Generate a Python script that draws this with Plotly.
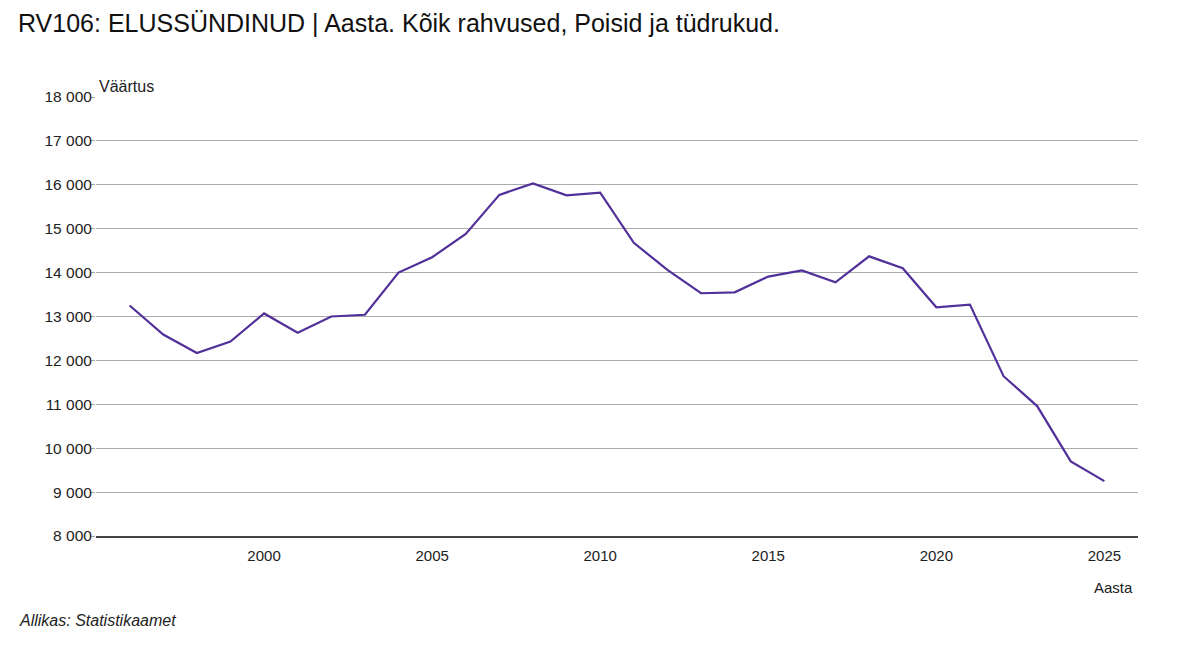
import plotly.graph_objs as go

# Elussündinud aastate kaupa (loetud pildilt)
years = list(range(1996, 2026))
births = [13250, 12590, 12170, 12430, 13070, 12630, 13000, 13040, 14000, 14350,
          14880, 15770, 16030, 15760, 15820, 14680, 14060, 13530, 13550, 13910,
          14050, 13780, 14370, 14100, 13210, 13270, 11640, 10960, 9700, 9250]

y_ticks = list(range(8000, 18001, 1000))
x_ticks = [2000, 2005, 2010, 2015, 2020, 2025]

line = go.Scatter(x=years, y=births, mode="lines", name="Elussündinud",
                  line={"color": "#51309a", "width": 2.2})

# page body adds 8px, margins are compensated for that
layout = go.Layout(
    width=1193, height=653,
    font={"family": "Liberation Sans, Arial, sans-serif", "size": 15, "color": "#222"},
    title={"text": "RV106: ELUSSÜNDINUD | Aasta. Kõik rahvused, Poisid ja tüdrukud.",
           "x": 0.0084, "xanchor": "left", "y": 0.976, "yanchor": "middle",
           "font": {"size": 25, "color": "#111"}},
    separators=", ",
    plot_bgcolor="white", paper_bgcolor="white",
    margin={"l": 88, "r": 63, "t": 89, "b": 125},
    showlegend=False,
    xaxis={"range": [1995, 2026], "tickvals": x_ticks, "showgrid": False,
           "showline": True, "linecolor": "#444", "linewidth": 1.5,
           "ticks": "", "ticklabelstandoff": 5, "zeroline": False,
           "fixedrange": True},
    yaxis={"range": [8000, 18000], "tickvals": y_ticks, "tickformat": ",d",
           "showgrid": True, "gridcolor": "#ababab", "gridwidth": 1,
           "ticks": "outside", "ticklen": 4, "tickcolor": "#ababab",
           "ticklabelstandoff": -4, "tickfont": {"size": 15.5},
           "zeroline": False, "fixedrange": True},
    annotations=[
        {"text": "Väärtus", "xref": "paper", "yref": "paper", "x": 0.001, "y": 1.0,
         "xanchor": "left", "yanchor": "bottom", "showarrow": False, "yshift": 0,
         "font": {"size": 16}},
        {"text": "Aasta", "xref": "paper", "yref": "paper", "x": 0.997, "y": 0,
         "xanchor": "right", "yanchor": "top", "showarrow": False, "yshift": -41,
         "font": {"size": 15}},
        {"text": "<i>Allikas: Statistikaamet</i>", "xref": "paper", "yref": "paper",
         "x": -0.0758, "y": 0, "xanchor": "left", "yanchor": "top",
         "showarrow": False, "yshift": -74, "font": {"size": 16}},
    ],
)

fig = go.Figure(data=[line], layout=layout)
fig.write_html("out.html")
